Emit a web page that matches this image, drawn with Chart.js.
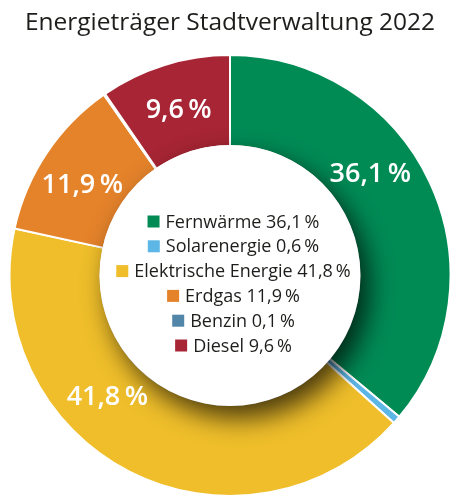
<!DOCTYPE html>
<html lang="de">
<head>
<meta charset="utf-8">
<script src="https://cdn.jsdelivr.net/npm/chart.js@4.4.1/dist/chart.umd.min.js"></script>
<style>
  html, body { margin: 0; padding: 0; background: #fff; }
  #wrap { width: 452px; height: 497px; position: relative; }
</style>
</head>
<body>
<div id="wrap"><canvas id="chart"></canvas></div>
<script>
// Daten
const titleText = 'Energieträger Stadtverwaltung 2022';
const labels = ['Fernwärme', 'Solarenergie', 'Elektrische Energie', 'Erdgas', 'Benzin', 'Diesel'];
const shares = [36.1, 0.6, 41.8, 11.9, 0.1, 9.6];
const colors = ['#008b55', '#5db7e6', '#efbe2a', '#e5832b', '#5286a9', '#a72534'];

const FONT = '"Open Sans", "Noto Sans", sans-serif';
const fmt = v => v.toFixed(1).replace('.', ',') + '\u2009%';

// weiße Mittelscheibe mit Schatten, Legende in der Mitte, Werte auf den Segmenten
const centerPlugin = {
    id: 'centerLegend',
    afterDatasetsDraw(chart, args, opts) {
        const ctx = chart.ctx;
        const meta = chart.getDatasetMeta(0);
        const first = meta.data[0];
        const { x, y, innerRadius, outerRadius } = first.getProps(['x', 'y', 'innerRadius', 'outerRadius'], true);

        ctx.save();
        ctx.shadowColor = 'rgba(0,0,0,0.7)';
        ctx.shadowBlur = 26;
        ctx.shadowOffsetX = 9;
        ctx.shadowOffsetY = 12;
        ctx.fillStyle = '#fff';
        ctx.beginPath();
        ctx.arc(x, y, innerRadius + 1, 0, Math.PI * 2);
        ctx.fill();
        ctx.restore();

        // Prozentwerte auf den großen Segmenten
        ctx.save();
        ctx.fillStyle = '#fff';
        ctx.font = '600 27px ' + FONT;
        ctx.textAlign = 'center';
        ctx.textBaseline = 'middle';
        const rMid = (innerRadius + outerRadius) / 2 - 2;
        meta.data.forEach((arc, i) => {
            if (shares[i] < 5) return;
            const p = arc.getProps(['startAngle', 'endAngle'], true);
            const a = (p.startAngle + p.endAngle) / 2 + (opts.shift[i] || 0) * Math.PI / 180;
            ctx.fillText(fmt(shares[i]), x + rMid * Math.cos(a), y + rMid * Math.sin(a));
        });
        ctx.restore();

        // Legende
        ctx.save();
        ctx.font = '18px ' + FONT;
        ctx.textBaseline = 'middle';
        ctx.textAlign = 'left';
        const lineH = 24.8;
        const box = 12, gap = 6;
        const y0 = y + opts.dy - (labels.length - 1) * lineH / 2;
        labels.forEach((lab, i) => {
            const txt = lab + ' ' + fmt(shares[i]);
            const w = box + gap + ctx.measureText(txt).width;
            const left = x + opts.dx - w / 2;
            const ly = y0 + i * lineH;
            ctx.fillStyle = colors[i];
            ctx.fillRect(left, ly - box / 2, box, box);
            ctx.fillStyle = '#1d1d1b';
            ctx.fillText(txt, left + box + gap, ly + 1);
        });
        ctx.restore();
    }
};

new Chart(document.getElementById('chart'), {
    type: 'doughnut',
    data: {
        labels: labels,
        datasets: [{
            data: shares,
            backgroundColor: colors,
            borderColor: '#fff',
            borderWidth: 2,
            hoverOffset: 0,
            offset: 0
        }]
    },
    options: {
        responsive: true,
        maintainAspectRatio: false,
        animation: false,
        cutout: '58.7%',
        layout: { padding: { left: 8 } },
        plugins: {
            legend: { display: false },
            tooltip: { enabled: false },
            title: {
                display: true,
                text: titleText,
                color: '#1d1d1b',
                font: { family: FONT, size: 24.5, weight: 'normal', lineHeight: 1.2 },
                padding: { top: 8, bottom: 16.6 }
            },
            centerLegend: { shift: [-10.7, 0, 18, -2.4, 0, 0], dx: 3.5, dy: 8 }
        }
    },
    plugins: [centerPlugin]
});
</script>
</body>
</html>
